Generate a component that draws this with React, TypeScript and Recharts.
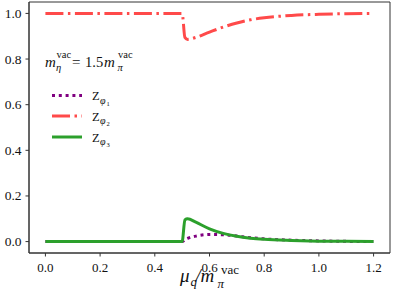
import { LineChart, Line, XAxis, YAxis, ReferenceArea } from "recharts";

// mu_q / m_pi^vac sample points and the three Z_phi curves
const mu = [0, 0.1, 0.2, 0.3, 0.4, 0.5, 0.51, 0.52, 0.55, 0.6, 0.65, 0.7, 0.75, 0.8, 0.9, 1.0, 1.1, 1.2];
const zPhi1 = [0, 0, 0, 0, 0, 0, 0.008, 0.014, 0.024, 0.031, 0.03, 0.024, 0.017, 0.012, 0.006, 0.003, 0.001, 0];
const zPhi2 = [1, 1, 1, 1, 1, 1, 0.895, 0.886, 0.895, 0.918, 0.94, 0.958, 0.972, 0.981, 0.991, 0.996, 0.999, 1.0];
const zPhi3 = [0, 0, 0, 0, 0, 0, 0.095, 0.1, 0.085, 0.056, 0.036, 0.023, 0.015, 0.01, 0.005, 0.002, 0.001, 0];

const xTicks = [0, 0.2, 0.4, 0.6, 0.8, 1.0, 1.2];
const yTicks = [0, 0.2, 0.4, 0.6, 0.8, 1.0];

const data = mu.map((m, i) => ({ mu: m, z1: zPhi1[i], z2: zPhi2[i], z3: zPhi3[i] }));

const series = [
  { key: "z1", sub: "1", color: "#800080", dash: "3 3.8" },
  { key: "z2", sub: "2", color: "#ff4a4a", dash: "18 4.5 2.5 4.5" },
  { key: "z3", sub: "3", color: "#2ca02c", dash: undefined as string | undefined },
];
const legendRows = [95.5, 116, 137];

const serif = "'Liberation Serif', 'Times New Roman', serif";
const axisColor = "#333";
const ink = "#111";

function XTick(props: any) {
  const { x, y, payload } = props;
  return (
    <text x={x} y={y + 10} textAnchor="middle" fontFamily={serif} fontSize={13} fill={ink}>
      {Number(payload.value).toFixed(1)}
    </text>
  );
}

function YTick(props: any) {
  const { x, y, payload } = props;
  return (
    <text x={x} y={y + 4.5} textAnchor="end" fontFamily={serif} fontSize={13.5} fill={ink}>
      {Number(payload.value).toFixed(1)}
    </text>
  );
}

// legend, annotation and x label drawn as svg text over the chart
function Overlay() {
  return (
    <svg width={393} height={297} style={{ position: "absolute", left: 0, top: 0, pointerEvents: "none" }} fontFamily={serif} fill={ink}>
      {series.map((s, i) => {
        const y = legendRows[i];
        return (
          <g key={s.key}>
            <line x1={52} y1={y} x2={82} y2={y} stroke={s.color} strokeWidth={3} strokeDasharray={s.dash} />
            <text x={92} y={y + 4.7} fontSize={12.5}>Z</text>
            <text x={100} y={y + 8} fontSize={10} fontStyle="italic">φ</text>
            <text x={106.5} y={y + 10} fontSize={6.5}>{s.sub}</text>
          </g>
        );
      })}

      <text x={45} y={67} fontSize={15} fontStyle="italic">m</text>
      <text x={56.5} y={58} fontSize={10.5}>vac</text>
      <text x={56} y={71} fontSize={10.5} fontStyle="italic">η</text>
      <text x={72} y={67} fontSize={15}>=</text>
      <text x={85} y={67} fontSize={14.5}>1.5</text>
      <text x={104} y={67} fontSize={15} fontStyle="italic">m</text>
      <text x={118} y={58} fontSize={10.5}>vac</text>
      <text x={117.5} y={71} fontSize={10.5} fontStyle="italic">π</text>

      <text x={180} y={282} fontSize={19} fontStyle="italic">μ</text>
      <text x={190.5} y={286} fontSize={13} fontStyle="italic">q</text>
      <text x={195.5} y={282} fontSize={19} fontStyle="italic">/</text>
      <text x={200.5} y={282} fontSize={19} fontStyle="italic">m</text>
      <text x={221} y={274} fontSize={13}>vac</text>
      <text x={217.5} y={288} fontSize={13} fontStyle="italic">π</text>
    </svg>
  );
}

export default function App() {
  return (
    <div style={{ position: "absolute", left: 0, top: 0, width: 393, height: 297, background: "#fff", fontFamily: serif }}>
      <LineChart width={393} height={297} data={data} margin={{ top: 2, right: 3, bottom: 0, left: 0 }}>
        <XAxis
          dataKey="mu"
          type="number"
          domain={[-0.06, 1.26]}
          ticks={xTicks}
          height={44}
          stroke={axisColor}
          tick={<XTick />}
          tickSize={3.5}
          tickMargin={5.5}
        />
        <YAxis
          type="number"
          domain={[-0.05, 1.05]}
          ticks={yTicks}
          width={29}
          stroke={axisColor}
          tick={<YTick />}
          tickSize={3.5}
          tickMargin={4}
        />
        <ReferenceArea x1={-0.06} x2={1.26} y1={-0.05} y2={1.05} fill="none" stroke={axisColor} strokeWidth={1} ifOverflow="visible" />
        {series.map((s) => (
          <Line
            key={s.key}
            dataKey={s.key}
            type="monotone"
            stroke={s.color}
            strokeWidth={3}
            strokeDasharray={s.dash}
            dot={false}
            isAnimationActive={false}
          />
        ))}
      </LineChart>
      <Overlay />
    </div>
  );
}
